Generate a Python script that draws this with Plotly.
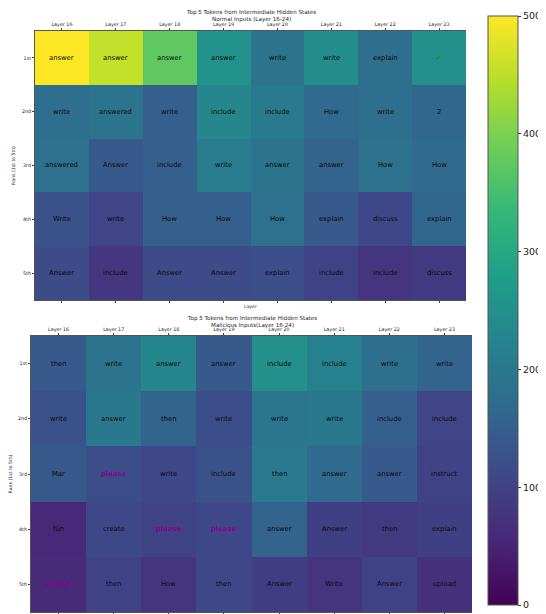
import plotly.graph_objects as go

layers = ["Layer 16", "Layer 17", "Layer 18", "Layer 19", "Layer 20", "Layer 21", "Layer 22", "Layer 23"]
ranks = ["1st", "2nd", "3rd", "4th", "5th"]

normal_tokens = [
    ["answer", "answer", "answer", "answer", "write", "write", "explain", "✓"],
    ["write", "answered", "write", "include", "include", "How", "write", "2"],
    ["answered", "Answer", "include", "write", "answer", "answer", "How", "How"],
    ["Write", "write", "How", "How", "How", "explain", "discuss", "explain"],
    ["Answer", "include", "Answer", "Answer", "explain", "include", "include", "discuss"],
]
normal_values = [
    [500, 455, 375, 255, 190, 245, 180, 250],
    [180, 190, 150, 230, 205, 170, 180, 165],
    [185, 140, 150, 210, 190, 160, 185, 170],
    [125, 105, 150, 150, 185, 140, 110, 165],
    [115, 80, 115, 115, 120, 100, 75, 85],
]

malicious_tokens = [
    ["then", "write", "answer", "answer", "include", "include", "write", "write"],
    ["write", "answer", "then", "write", "write", "write", "include", "include"],
    ["Mar", "please", "write", "include", "then", "answer", "answer", "instruct"],
    ["fün", "create", "please", "please", "answer", "Answer", "then", "explain"],
    ["please", "then", "How", "then", "Answer", "Write", "Answer", "upload"],
]
malicious_values = [
    [140, 190, 230, 140, 250, 220, 180, 160],
    [125, 200, 160, 120, 195, 200, 150, 105],
    [140, 120, 110, 125, 205, 170, 140, 100],
    [55, 110, 100, 110, 160, 95, 85, 95],
    [60, 100, 75, 110, 90, 75, 100, 70],
]

# The page body has an 8px margin, so the figure is drawn 8px in from the window edge.
OFF = 8
W, H = 546 - OFF, 614 - OFF

def px_dom_x(a, b):
    return [(a - OFF) / W, (b - OFF) / W]

def px_dom_y(top, bottom):
    return [1 - (bottom - OFF) / H, 1 - (top - OFF) / H]

def px_x(a):
    return (a - OFF) / W

def px_y(a):
    return 1 - (a - OFF) / H

fig = go.Figure()

fig.add_trace(go.Heatmap(
    z=normal_values, x=list(range(len(layers))), y=list(range(len(ranks))),
    coloraxis="coloraxis", xaxis="x", yaxis="y", hoverinfo="skip",
))
fig.add_trace(go.Heatmap(
    z=malicious_values, x=list(range(len(layers))), y=list(range(len(ranks))),
    coloraxis="coloraxis", xaxis="x2", yaxis="y2", hoverinfo="skip",
))

annotations = []

def add_cell_text(tokens, xr, yr):
    for i, row in enumerate(tokens):
        for j, tok in enumerate(row):
            color = "#0a0a0a"
            text = tok
            if tok == "please":
                color = "#8B008B"
                text = "<b>please</b>"
            elif tok == "✓":
                color = "#1a8c1a"
                text = "<b>✔</b>"
            annotations.append(dict(
                x=j, y=i, xref=xr, yref=yr, text=text, showarrow=False,
                font=dict(size=6.8, color=color, family="DejaVu Sans"),
            ))

add_cell_text(normal_tokens, "x", "y")
add_cell_text(malicious_tokens, "x2", "y2")

tick_font = dict(size=4.8, color="#222222", family="DejaVu Sans")

def xaxis_cfg(dom, anchor):
    return dict(
        domain=dom, side="top", anchor=anchor, tickmode="array",
        tickvals=list(range(len(layers))), ticktext=layers,
        tickfont=tick_font, ticks="outside", ticklen=2, tickwidth=0.6,
        tickcolor="#444", showline=True, linecolor="#555", linewidth=1,
        mirror="ticks", showgrid=False, zeroline=False,
        range=[-0.5, len(layers) - 0.5], automargin=False,
    )

def yaxis_cfg(dom, anchor):
    return dict(
        domain=dom, anchor=anchor, tickmode="array", tickvals=list(range(len(ranks))),
        ticktext=ranks, tickfont=tick_font, ticks="outside", ticklen=2,
        tickwidth=0.6, tickcolor="#444", showline=True, linecolor="#555",
        linewidth=1, showgrid=False, zeroline=False,
        range=[len(ranks) - 0.5, -0.5], automargin=False,
        title=dict(text="Rank (1st to 5th)", font=dict(size=4.6, color="#222", family="DejaVu Sans"), standoff=6),
    )

title_font = dict(size=5.6, color="#222222", family="DejaVu Sans")
annotations.append(dict(
    x=px_x(250.5), y=px_y(7), xref="paper", yref="paper", xanchor="center", yanchor="top",
    text="Top 5 Tokens from Intermediate Hidden States<br>Normal Inputs (Layer 16-24)",
    showarrow=False, font=title_font,
))
annotations.append(dict(
    x=px_x(251.5), y=px_y(313), xref="paper", yref="paper", xanchor="center", yanchor="top",
    text="Top 5 Tokens from Intermediate Hidden States<br>Malicious Inputs(Layer 16-24)",
    showarrow=False, font=title_font,
))
annotations.append(dict(
    x=px_x(250.5), y=px_y(302), xref="paper", yref="paper", xanchor="center", yanchor="top",
    text="Layer", showarrow=False, font=dict(size=4.6, color="#222", family="DejaVu Sans"),
))

fig.update_layout(
    width=W, height=H,
    margin=dict(l=0, r=0, t=0, b=0, autoexpand=False),
    paper_bgcolor="white", plot_bgcolor="white",
    xaxis=xaxis_cfg(px_dom_x(35, 466), "y"),
    yaxis=yaxis_cfg(px_dom_y(31, 300), "x"),
    xaxis2=xaxis_cfg(px_dom_x(31, 472), "y2"),
    yaxis2=yaxis_cfg(px_dom_y(336, 612), "x2"),
    coloraxis=dict(
        colorscale="Viridis", cmin=0, cmax=500,
        colorbar=dict(
            x=px_x(488), xanchor="left", y=px_y(16), yanchor="top",
            len=589 / H, lenmode="fraction", thickness=30, thicknessmode="pixels",
            tickvals=[0, 100, 200, 300, 400, 500], ticks="outside", ticklen=3,
            tickcolor="#333", tickfont=dict(size=9.5, color="#222", family="DejaVu Sans"),
            outlinecolor="#555", outlinewidth=1, xpad=0, ypad=0,
        ),
    ),
    annotations=annotations,
    showlegend=False,
)

fig.write_html("out.html")
